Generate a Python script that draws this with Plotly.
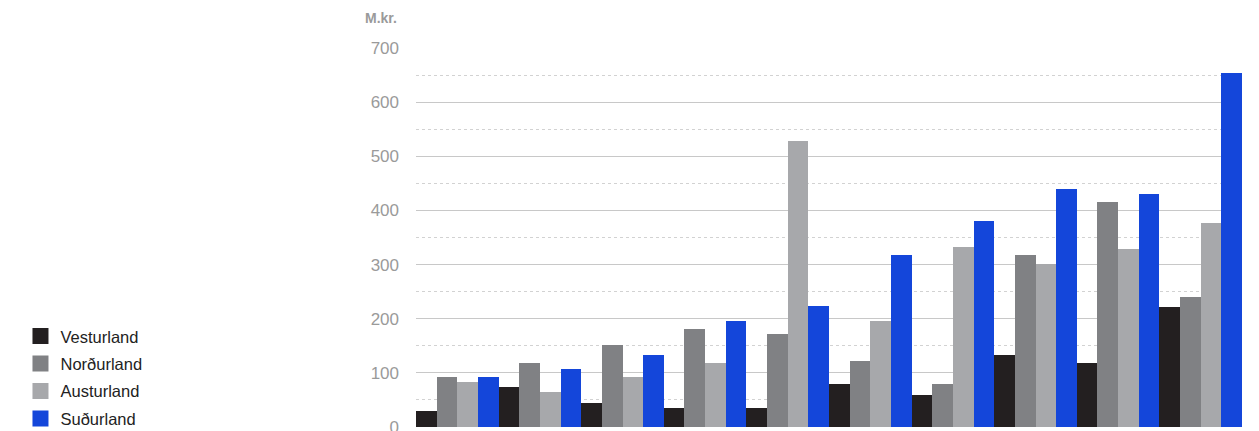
import plotly.graph_objects as go

categories = ["2008", "2009", "2010", "2011", "2012", "2013", "2014", "2015", "2016", "2017"]
vesturland = [30, 73, 44, 35, 35, 79, 59, 133, 119, 221]
nordurland = [93, 119, 151, 181, 171, 122, 79, 317, 415, 241]
austurland = [84, 64, 93, 119, 528, 195, 332, 301, 328, 377]
sudurland = [93, 108, 133, 195, 224, 317, 381, 439, 430, 653]

series_names = ["Vesturland", "Norðurland", "Austurland", "Suðurland"]
series_values = [vesturland, nordurland, austurland, sudurland]
colors = ["#231f20", "#808184", "#a7a8ab", "#1446da"]
y_ticks = [0, 100, 200, 300, 400, 500, 600, 700]

fig = go.Figure()
for name, vals, col in zip(series_names, series_values, colors):
    fig.add_trace(go.Bar(x=categories, y=vals, name=name, marker=dict(color=col, line=dict(width=0)),
                         showlegend=False))
# legend entries (square swatches)
for name, col in zip(series_names, colors):
    fig.add_trace(go.Scatter(x=[None], y=[None], mode="markers", name=name, legendgroup=name,
                             marker=dict(symbol="square", size=16, color=col, line=dict(width=0))))

fig.update_layout(
    width=1251, height=440,
    margin=dict(l=407, r=17, t=40, b=15),
    paper_bgcolor="white", plot_bgcolor="white",
    barmode="group", bargap=0, bargroupgap=0,
    font=dict(family="Liberation Sans, Arial, sans-serif", color="#333333"),
    showlegend=True,
    legend=dict(x=(11 - 407) / 827, xanchor="left", y=-9 / 385, yanchor="bottom",
                font=dict(size=16.5, color="#222222"), tracegroupgap=3, itemsizing="trace",
                bgcolor="rgba(0,0,0,0)"),
    xaxis=dict(showticklabels=False, showgrid=False, zeroline=False, showline=False, ticks=""),
    yaxis=dict(range=[0, 700], tickvals=y_ticks, showgrid=True, gridcolor="#c8c8c8", gridwidth=1,
               zeroline=False, showline=False, ticks="",
               tickfont=dict(size=17, color="#9a9a9a"), ticklabelstandoff=16,
               minor=dict(dtick=50, showgrid=True, gridcolor="#d2d2d2", griddash="dot", gridwidth=1)),
    annotations=[dict(text="<b>M.kr.</b>", xref="paper", yref="paper", x=-17/827, y=1.0, xanchor="right",
                      yanchor="bottom", yshift=20, showarrow=False,
                      font=dict(size=14, color="#9a9a9a"))],
)

fig.write_html("out.html")
